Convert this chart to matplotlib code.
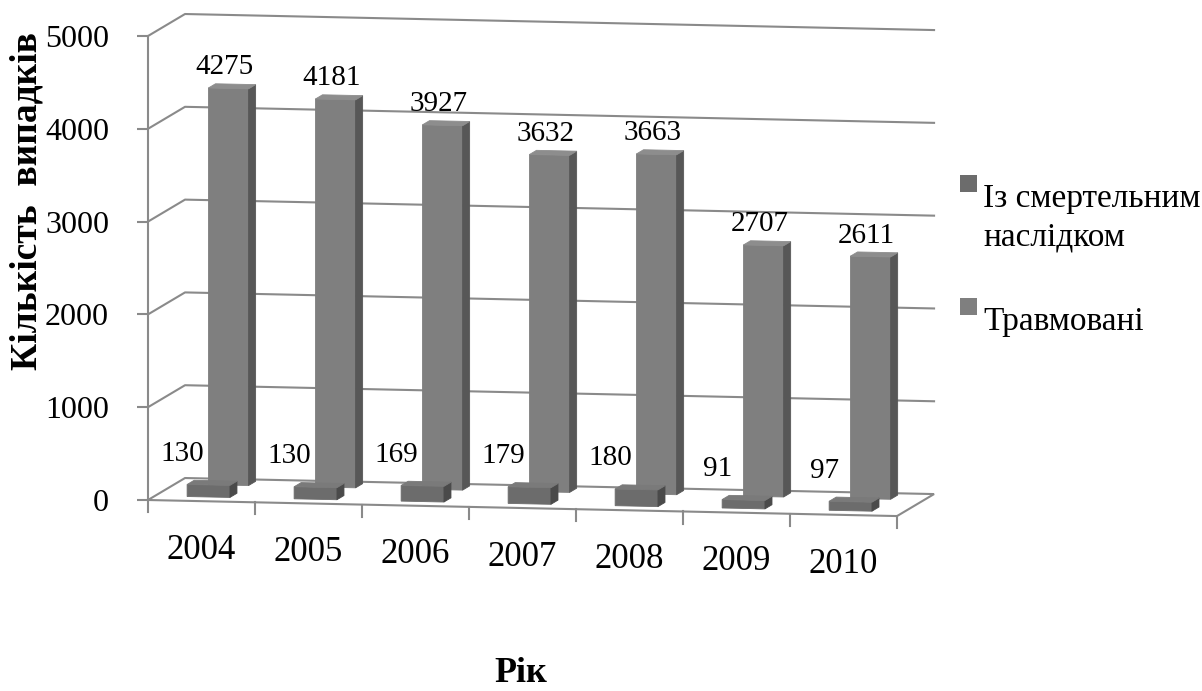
import matplotlib.pyplot as plt
from matplotlib.patches import Polygon, Rectangle

# ---------------------------------------------------------------------------
# Data
# ---------------------------------------------------------------------------
years = ["2004", "2005", "2006", "2007", "2008", "2009", "2010"]
fatal = [130, 130, 169, 179, 180, 91, 97]
injured = [4275, 4181, 3927, 3632, 3663, 2707, 2611]
y_ticks = [0, 1000, 2000, 3000, 4000, 5000]
series_names = ["Із смертельним\nнаслідком", "Травмовані"]

plt.rcParams["font.family"] = ["Liberation Serif", "DejaVu Serif"]

# ---------------------------------------------------------------------------
# Oblique projection of the 3-D column box onto ordinary 2-D data coords
# (x in category units, y in value units, d = depth 0 front .. 1 back wall)
# ---------------------------------------------------------------------------
DEPTH_X = 0.346
DEPTH_Y = 237.0
SLOPE = -24.7
X_LEFT = -0.5
X_RIGHT = len(years) - 0.5


def proj(x, v, d=0.0):
    return x + d * DEPTH_X, v + SLOPE * (x - X_LEFT) + d * DEPTH_Y


GRID = "#8a8a8a"
FATAL_COLORS = ("#6c6c6c", "#4a4a4a", "#7a7a7a")     # front, side, top
INJURED_COLORS = ("#7f7f7f", "#575757", "#8d8d8d")


def draw_bar(ax, xc, v, d0, d1, width, colors):
    front_c, side_c, top_c = colors
    x0, x1 = xc - width / 2, xc + width / 2
    faces = [
        ([proj(x0, 0, d0), proj(x1, 0, d0), proj(x1, v, d0), proj(x0, v, d0)], front_c),
        ([proj(x1, 0, d0), proj(x1, 0, d1), proj(x1, v, d1), proj(x1, v, d0)], side_c),
        ([proj(x0, v, d0), proj(x1, v, d0), proj(x1, v, d1), proj(x0, v, d1)], top_c),
    ]
    for pts, c in faces:
        ax.add_patch(Polygon(pts, closed=True, facecolor=c, edgecolor=c,
                             linewidth=0.6, zorder=3))


fig = plt.figure(figsize=(12.02, 6.91), dpi=100)
ax = fig.add_axes([0, 0, 1, 1])
ax.set_xlim(-1.883, 9.350)
ax.set_ylim(-2058, 5388)
ax.patch.set_visible(False)

# value axis on the front-left edge
for side in ("top", "right", "bottom"):
    ax.spines[side].set_visible(False)
ax.spines["left"].set_position(("data", X_LEFT))
ax.spines["left"].set_bounds(0, 5000)
ax.spines["left"].set_color(GRID)
ax.spines["left"].set_linewidth(1.5)
ax.set_xticks([])
ax.set_yticks(y_ticks)
ax.tick_params(axis="y", direction="out", length=8, width=1.5, color=GRID,
               labelsize=23, pad=20)

# floor
floor = [proj(X_LEFT, 0, 0), proj(X_RIGHT, 0, 0), proj(X_RIGHT, 0, 1), proj(X_LEFT, 0, 1)]
ax.add_patch(Polygon(floor, closed=True, facecolor="white", edgecolor=GRID,
                     linewidth=1.5, zorder=1))

# gridlines on the left and back walls
for v in y_ticks[1:]:
    pts = [proj(X_LEFT, v, 0), proj(X_LEFT, v, 1), proj(X_RIGHT, v, 1)]
    ax.plot([p[0] for p in pts], [p[1] for p in pts], color=GRID, lw=1.5, zorder=1)

# category ticks hanging from the front edge
for k in range(len(years) + 1):
    x, y = proj(X_LEFT + k, 0, 0)
    ax.plot([x, x], [y, y - 130], color=GRID, lw=1.5, zorder=1)

# back row: injured, front row: fatal
for i, v in enumerate(injured):
    draw_bar(ax, i, v, 0.73, 0.92, 0.375, INJURED_COLORS)
    x, y = proj(i, v, 0.73)
    ax.text(x - 0.04, y + 150, str(v), ha="center", va="baseline", fontsize=21, zorder=5)

for i, v in enumerate(fatal):
    draw_bar(ax, i, v, 0.19, 0.38, 0.40, FATAL_COLORS)
    x, y = proj(i, v, 0.19)
    ax.text(x - 0.243, y + 259, str(v), ha="center", va="baseline", fontsize=21, zorder=5)

for i, label in enumerate(years):
    x, y = proj(i, 0, 0)
    ax.text(x, y - 530, label, ha="center", va="center", fontsize=25)

# legend
W, H = 1202, 691
sq = 17
for (top_px, name, color) in [(175, series_names[0], FATAL_COLORS[0]),
                              (298, series_names[1], INJURED_COLORS[0])]:
    fig.patches.append(Rectangle((960 / W, 1 - (top_px + sq) / H), sq / W, sq / H,
                                 transform=fig.transFigure, facecolor=color,
                                 edgecolor="none"))
    fig.text(983 / W, 1 - (top_px + sq / 2) / H, name, ha="left", va="top",
             fontsize=24, linespacing=1.35)

fig.text(27 / W, 1 - 201 / H, "Кількість  випадків", rotation=90, ha="center",
         va="center", fontsize=27, fontweight="bold")
fig.text(521 / W, 1 - 673 / H, "Рік", ha="center", va="center", fontsize=26,
         fontweight="bold")

fig.savefig("out.png", dpi=100)
